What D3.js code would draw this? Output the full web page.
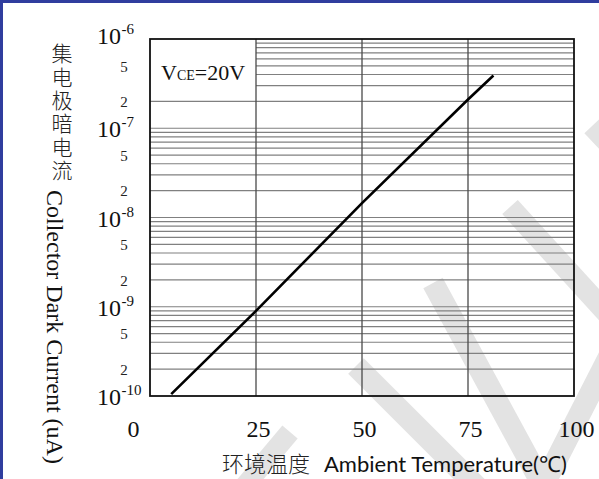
<!DOCTYPE html>
<html><head><meta charset="utf-8">
<script src="https://cdn.jsdelivr.net/npm/d3@7"></script>
<style>
html,body{margin:0;padding:0;background:#fff;}
svg{display:block;}
</style>
</head><body>
<svg id="chart" width="599" height="479"></svg>
<script>
// ---- data ----
const temps = [5, 25, 50, 75, 81];                              // Ambient temperature (°C)
const darkCurrent = [1.05e-10, 9e-10, 1.45e-8, 2.1e-7, 3.9e-7]; // Collector dark current
const xTicks = [0, 25, 50, 75, 100];
const decadeExps = [-10, -9, -8, -7, -6];
const minorLabelMults = [2, 5];
const gridMults = [2, 3, 4, 5, 6, 7, 8, 9];
const yTitleCN = "集电极暗电流";
const yTitleEN = "Collector Dark Current (uA)";
const xTitleCN = "环境温度";
const xTitleEN = "Ambient Temperature(℃)";
const conditionLabel = ["V", "CE", "=20V"];

const svg = d3.select("#chart");
const W = 599, H = 479;
const margin = {left: 150, right: 25, top: 39, bottom: 83};

const x = d3.scaleLinear().domain([0, 100]).range([margin.left, W - margin.right]);
const y = d3.scaleLog().domain([1e-10, 1e-6]).range([H - margin.bottom, margin.top]);

// ---- watermark (background decoration) ----
const wm = svg.append("g").attr("fill", "none").attr("stroke", "#e3e3e3").attr("stroke-linecap", "butt");
[
  [[592,126],[645,182],21],
  [[510,207],[645,355],21],
  [[433,283],[548,495],22],
  [[540,492],[615,345],22],
  [[356,366],[482,492],22],
  [[290,432],[238,494],20]
].forEach(s => {
  wm.append("line").attr("x1", s[0][0]).attr("y1", s[0][1]).attr("x2", s[1][0]).attr("y2", s[1][1])
    .attr("stroke-width", s[2]);
});

// ---- blue page edges ----
svg.append("rect").attr("x", 0).attr("y", 0).attr("width", W).attr("height", 3).attr("fill", "#303d9e");
svg.append("rect").attr("x", 0).attr("y", 0).attr("width", 3).attr("height", H).attr("fill", "#303d9e");

// ---- horizontal grid (log minor + decades) ----
const hVals = [];
decadeExps.slice(0, -1).forEach(e => {
  if (e !== -10) hVals.push(Math.pow(10, e));
  gridMults.forEach(m => hVals.push(m * Math.pow(10, e)));
});
const labelBoxLimit = 2.5e-7; // above this, the first column is left open for the condition label
svg.append("g").selectAll("line").data(hVals).join("line")
  .attr("x1", d => d > labelBoxLimit ? x(25) : x(0))
  .attr("x2", x(100))
  .attr("y1", d => y(d)).attr("y2", d => y(d))
  .attr("stroke", "#808080").attr("stroke-width", 1.2);

// ---- vertical grid ----
svg.append("g").selectAll("line").data(xTicks.slice(1, -1)).join("line")
  .attr("x1", d => x(d)).attr("x2", d => x(d))
  .attr("y1", y(1e-6)).attr("y2", y(1e-10))
  .attr("stroke", "#4a4a4a").attr("stroke-width", 1.3);

// ---- frame ----
svg.append("rect")
  .attr("x", x(0)).attr("y", y(1e-6))
  .attr("width", x(100) - x(0)).attr("height", y(1e-10) - y(1e-6))
  .attr("fill", "none").attr("stroke", "#111").attr("stroke-width", 1.8);

// ---- curve ----
const pts = temps.map((t, i) => [t, darkCurrent[i]]);
svg.append("path").datum(pts)
  .attr("d", d3.line().x(d => x(d[0])).y(d => y(d[1])))
  .attr("fill", "none").attr("stroke", "#000").attr("stroke-width", 2.6);

// ---- x axis labels ----
const serif = "'Liberation Serif', 'Times New Roman', serif";
const xAxis = svg.append("g").attr("transform", `translate(0,${y(1e-10)})`)
  .call(d3.axisBottom(x).tickValues(xTicks).tickSize(0).tickFormat(d3.format("d")));
xAxis.select(".domain").remove();
xAxis.selectAll("text")
  .attr("y", 41).attr("dy", 0)
  .attr("dx", d => d === 0 ? -17 : 2)
  .attr("font-family", serif)
  .attr("font-size", 24).attr("fill", "#111");

// ---- y axis decade labels 10^n ----
const dl = svg.append("g");
decadeExps.forEach(e => {
  const t = dl.append("text").attr("x", 97).attr("y", y(Math.pow(10, e)) + (e === -6 ? 5 : 9))
    .attr("font-family", serif).attr("fill", "#111");
  t.append("tspan").attr("font-size", 24).text("10");
  t.append("tspan").attr("font-size", 15).attr("dy", -10).attr("dx", 0.5).text("-" + Math.abs(e));
});

// ---- y axis minor labels 2, 5 ----
const minorVals = [];
decadeExps.slice(0, -1).forEach(e => minorLabelMults.forEach(m => minorVals.push(m * Math.pow(10, e))));
const yAxis = svg.append("g").attr("transform", "translate(124,0)")
  .call(d3.axisLeft(y).tickValues(minorVals).tickSize(0)
    .tickFormat(d => String(Math.round(d / Math.pow(10, Math.floor(Math.log10(d) + 1e-9))))));
yAxis.select(".domain").remove();
yAxis.selectAll("text")
  .attr("x", 0).attr("dy", "0.35em").attr("text-anchor", "middle")
  .attr("font-family", serif).attr("font-size", 15).attr("fill", "#222");

// ---- condition label ----
const cl = svg.append("text").attr("x", 161).attr("y", 80).attr("font-family", serif).attr("fill", "#111");
cl.append("tspan").attr("font-size", 22).text(conditionLabel[0]);
cl.append("tspan").attr("font-size", 14).text(conditionLabel[1]);
cl.append("tspan").attr("font-size", 22).text(conditionLabel[2]);

// ---- y title ----
const cjk = "'Noto Sans CJK SC', 'Noto Sans CJK JP', sans-serif";
svg.append("text")
  .attr("x", 62).attr("y", 43)
  .style("writing-mode", "vertical-rl")
  .style("text-orientation", "upright")
  .attr("letter-spacing", 2.3)
  .attr("font-family", cjk).attr("font-size", 21).attr("font-weight", 300).attr("fill", "#222")
  .text(yTitleCN);
svg.append("text").attr("transform", "translate(47,190) rotate(90)")
  .attr("font-family", serif).attr("font-size", 24).attr("fill", "#111")
  .text(yTitleEN);

// ---- x title ----
svg.append("text").attr("x", 222).attr("y", 472)
  .attr("font-family", cjk).attr("font-size", 22).attr("font-weight", 300).attr("fill", "#222")
  .text(xTitleCN);
svg.append("text").attr("x", 324).attr("y", 472)
  .attr("font-family", "Lato, 'Open Sans', sans-serif").attr("font-size", 22).attr("fill", "#111")
  .text(xTitleEN);
</script>
</body></html>
